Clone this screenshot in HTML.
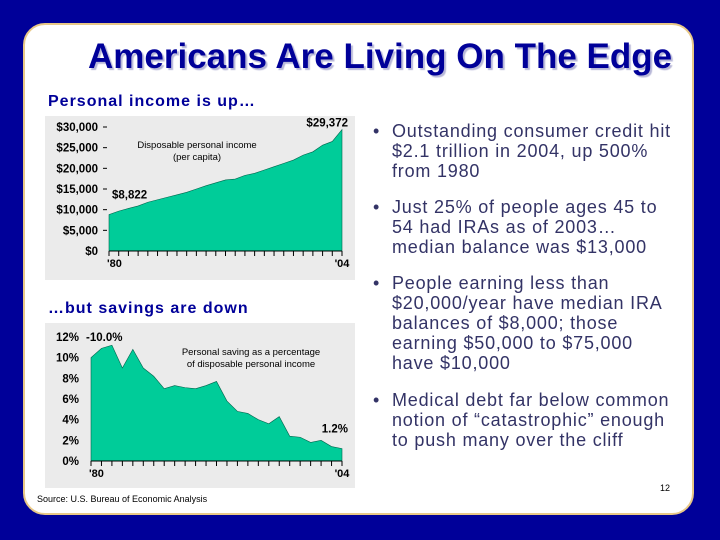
<!DOCTYPE html>
<html><head><meta charset="utf-8"><style>
body{margin:0;width:720px;height:540px;background:#000099;overflow:hidden;font-family:"Liberation Sans",sans-serif}
#panel{position:absolute;left:23px;top:23px;width:671px;height:492px;background:#fff;border:2px solid #e8c887;border-radius:22px;box-sizing:border-box}
.t{position:absolute;white-space:nowrap}
#title{left:88px;top:37px;font-size:35px;font-weight:bold;color:#000099;text-shadow:2px 2px 1px #b8b8d8;letter-spacing:0px}
.sub{font-size:16px;font-weight:bold;color:#000099;letter-spacing:1px}
.bul{position:absolute;left:373px;color:#333366;font-size:18px;line-height:20px;letter-spacing:0.8px}
.bul span{position:absolute;left:0}
.bul div{margin-left:19px}
</style></head><body>
<div id="panel"></div>
<div class="t" id="title">Americans Are Living On The Edge</div>
<div class="t sub" style="left:48px;top:93px">Personal income is up…</div>
<div class="t sub" style="left:48px;top:300px">…but savings are down</div>
<svg width="720" height="540" style="position:absolute;left:0;top:0" id="svg"></svg>
<div class="bul" style="top:121px"><span>•</span><div>Outstanding consumer credit hit<br>$2.1 trillion in 2004, up 500%<br>from 1980</div></div>
<div class="bul" style="top:197px"><span>•</span><div>Just 25% of people ages 45 to<br>54 had IRAs as of 2003…<br>median balance was $13,000</div></div>
<div class="bul" style="top:273px"><span>•</span><div>People earning less than<br>$20,000/year have median IRA<br>balances of $8,000; those<br>earning $50,000 to $75,000<br>have $10,000</div></div>
<div class="bul" style="top:390px"><span>•</span><div>Medical debt far below common<br>notion of “catastrophic” enough<br>to push many over the cliff</div></div>
<div class="t" style="left:660px;top:483px;font-size:9px">12</div>
<div class="t" style="left:37px;top:494px;font-size:9px;color:#000">Source: U.S. Bureau of Economic Analysis</div>
<script>
const years=[1980,1981,1982,1983,1984,1985,1986,1987,1988,1989,1990,1991,1992,1993,1994,1995,1996,1997,1998,1999,2000,2001,2002,2003,2004];
const income=[8822,9650,10300,10900,11800,12400,13000,13600,14200,15000,15800,16500,17200,17400,18300,18800,19600,20400,21200,22000,23200,24000,25600,26500,29372];
const incomeTicks=[0,5000,10000,15000,20000,25000,30000];
const incomeTickLabels=["$0","$5,000","$10,000","$15,000","$20,000","$25,000","$30,000"];
const saving=[10.0,10.9,11.2,9.0,10.8,9.0,8.2,7.0,7.3,7.1,7.0,7.3,7.7,5.8,4.8,4.6,4.0,3.6,4.3,2.4,2.3,1.8,2.0,1.4,1.2];
const savingTicks=[0,2,4,6,8,10,12];
const savingTickLabels=["0%","2%","4%","6%","8%","10%","12%"];
const svg=document.getElementById('svg');const NS='http://www.w3.org/2000/svg';
function mk(tag,attrs,txt){const e=document.createElementNS(NS,tag);for(const k in attrs)e.setAttribute(k,attrs[k]);if(txt!==undefined)e.textContent=txt;svg.appendChild(e);return e;}
function chart(cfg){
  const bg=mk('rect',{x:45,y:cfg.top,width:310,height:cfg.h,fill:'#ebebeb'});
  
  
  const xs=v=>cfg.x0+(v-years[0])/(years[years.length-1]-years[0])*(cfg.x1-cfg.x0);
  const ys=v=>cfg.y0-(v-cfg.min)/(cfg.max-cfg.min)*(cfg.y0-cfg.yTop);
  let d='M'+xs(years[0])+','+ys(cfg.min);
  cfg.vals.forEach((v,i)=>{d+=' L'+xs(years[i])+','+ys(v);});
  d+=' L'+xs(years[years.length-1])+','+ys(cfg.min)+' Z';
  const a=mk('path',{d:d,fill:'#00cc99',stroke:'#00664d','stroke-width':0.6});
  
  
  mk('line',{x1:cfg.x0,x2:cfg.x1,y1:cfg.y0,y2:cfg.y0,stroke:'#000','stroke-width':1});
  years.forEach(y=>{const t=mk('line',{x1:xs(y),x2:xs(y),y1:cfg.y0,y2:cfg.y0+5,stroke:'#000','stroke-width':1});
    
    });
  cfg.ticks.forEach((v,i)=>{const l=mk('text',{x:cfg.lx,y:ys(v)+4,'text-anchor':'end','font-size':11.5,'font-weight':'bold','font-family':'Liberation Sans'},cfg.labels[i]);
    
    
    if(cfg.dash&&i>0)mk('line',{x1:cfg.lx+5,x2:cfg.lx+9,y1:ys(v),y2:ys(v),stroke:'#000'});});
  const x0l=mk('text',{x:cfg.x0-2,y:cfg.y0+16,'font-size':11,'font-weight':'bold','font-family':'Liberation Sans'},"'80");
  
  
  const x1l=mk('text',{x:cfg.x1,y:cfg.y0+16,'text-anchor':'middle','font-size':11,'font-weight':'bold','font-family':'Liberation Sans'},"'04");
  
  
  return {xs,ys};
}
const c1=chart({name:'income-chart',top:116,h:164,x0:109,x1:342,y0:251,yTop:127,min:0,max:30000,vals:income,ticks:incomeTicks,labels:incomeTickLabels,lx:98,dash:true});
mk('text',{x:c1.xs(1980)+3,y:c1.ys(income[0])-16,'font-size':11.5,'font-weight':'bold','font-family':'Liberation Sans'},'$'+income[0].toLocaleString('en-US'));
mk('text',{x:c1.xs(2004)+6,y:c1.ys(income[24])-3,'text-anchor':'end','font-size':11.5,'font-weight':'bold','font-family':'Liberation Sans'},'$'+income[24].toLocaleString('en-US'));
mk('text',{x:197,y:148,'text-anchor':'middle','font-size':9.5,'font-family':'Liberation Sans'},'Disposable personal income');
mk('text',{x:197,y:160,'text-anchor':'middle','font-size':9.5,'font-family':'Liberation Sans'},'(per capita)');
const c2=chart({name:'saving-chart',top:323,h:165,x0:91,x1:342,y0:461,yTop:337,min:0,max:12,vals:saving,ticks:savingTicks,labels:savingTickLabels,lx:79,dash:false});
mk('text',{x:c2.xs(1980)-5,y:c2.ys(12)+4,'font-size':11.5,'font-weight':'bold','font-family':'Liberation Sans'},'-'+saving[0].toFixed(1)+'%');
mk('text',{x:c2.xs(2004)+6,y:c2.ys(saving[24])-16,'text-anchor':'end','font-size':11.5,'font-weight':'bold','font-family':'Liberation Sans'},saving[24].toFixed(1)+'%');
mk('text',{x:251,y:355,'text-anchor':'middle','font-size':9.5,'font-family':'Liberation Sans'},'Personal saving as a percentage');
mk('text',{x:251,y:367,'text-anchor':'middle','font-size':9.5,'font-family':'Liberation Sans'},'of disposable personal income');
</script>
</body></html>
